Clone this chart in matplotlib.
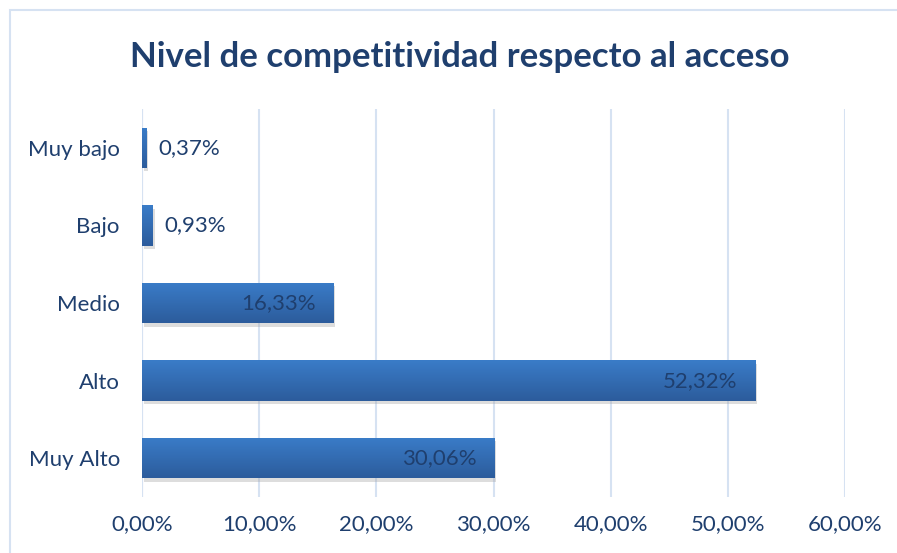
import matplotlib
matplotlib.use("Agg")
import matplotlib.pyplot as plt
import numpy as np
from matplotlib import patheffects as pe
from matplotlib.patches import Rectangle
from matplotlib.colors import LinearSegmentedColormap

categories = ["Muy Alto", "Alto", "Medio", "Bajo", "Muy bajo"]
values = [30.06, 52.32, 16.33, 0.93, 0.37]
labels = ["30,06%", "52,32%", "16,33%", "0,93%", "0,37%"]
xticks = [0, 10, 20, 30, 40, 50, 60]
xticklabels = ["0,00%", "10,00%", "20,00%", "30,00%", "40,00%", "50,00%", "60,00%"]
title = "Nivel de competitividad respecto al acceso"

plt.rcParams['font.family'] = ['Lato', 'DejaVu Sans']
text_color = "#1F3F6E"

fig = plt.figure(figsize=(8.97, 5.53), dpi=100)
fig.patch.set_facecolor("white")
fig.patches.append(Rectangle((10/897, -0.05), 1.0, 1 - 10/553 + 0.05, transform=fig.transFigure,
                             fill=False, edgecolor="#D6E2F2", linewidth=1.5))

ax = fig.add_axes([142/897, 56/553, 703/897, 388/553])
y = np.arange(len(categories))
bars = ax.barh(y, values, height=0.52, color="#3470BA", zorder=2)

cmap = LinearSegmentedColormap.from_list("g", ["#2C5C9C", "#3A7CC8"])
grad = np.linspace(0, 1, 64).reshape(-1, 1)
for b in bars:
    b.set_path_effects([pe.SimplePatchShadow(offset=(1.5, -2.5), shadow_rgbFace="#A0A0A0", alpha=0.35), pe.Normal()])
    x0, y0, w, h = b.get_x(), b.get_y(), b.get_width(), b.get_height()
    im = ax.imshow(grad, cmap=cmap, aspect="auto", extent=(x0, x0 + w, y0 + h, y0), zorder=3, interpolation="bilinear")
    im.set_clip_path(b)

for yi, v, lab in zip(y, values, labels):
    if v > 5:
        ax.text(v - 1.5, yi, lab, ha="right", va="center", fontsize=16, color=text_color, zorder=4)
    else:
        ax.text(v + 1.0, yi, lab, ha="left", va="center", fontsize=16, color=text_color, zorder=4)

ax.set_xlim(0, 60)
ax.set_ylim(-0.5, len(categories) - 0.5)
ax.set_xticks(xticks)
ax.set_xticklabels(xticklabels, fontsize=16, color=text_color)
ax.set_yticks(y)
ax.set_yticklabels(categories, fontsize=16, color=text_color)
ax.tick_params(axis="both", length=0)
ax.tick_params(axis="x", pad=12)
ax.tick_params(axis="y", pad=16)
ax.grid(axis="x", color="#D6E2F2", linewidth=1.5, zorder=0)
ax.set_axisbelow(True)
for s in ax.spines.values():
    s.set_visible(False)
ax.axvline(0, color="#D6E2F2", linewidth=1.5, zorder=1)

fig.text(460/897, 1 - 57/553, title, ha="center", va="center", fontsize=25, fontweight="bold", color=text_color)

fig.savefig("out.png", dpi=100)
